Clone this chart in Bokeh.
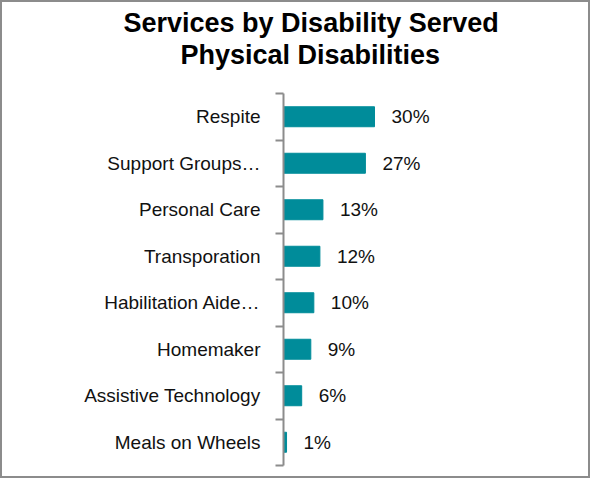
from bokeh.plotting import figure
from bokeh.models import Range1d, FixedTicker, Title, ColumnDataSource
from bokeh.core.properties import value
from bokeh.embed import file_html
from bokeh.resources import INLINE

# Data (top to bottom as in the chart)
categories = ["Respite", "Support Groups…", "Personal Care", "Transporation",
              "Habilitation Aide…", "Homemaker", "Assistive Technology", "Meals on Wheels"]
percent = [30, 27, 13, 12, 10, 9, 6, 1]
title_lines = ["Services by Disability Served", "Physical Disabilities"]

FONT = "Liberation Sans"
n = len(categories)
# bottom category at position 0.5, top at n-0.5
ypos = [n - 0.5 - i for i in range(n)]
labels = [f"{v}%" for v in percent]

W, H = 590, 478
ML, MR, MT, MB = 281, 10, 91, 15
frame_w = W - ML - MR
x_end = 30 * frame_w / 91.0

p = figure(width=W, height=H, output_backend="svg", toolbar_location=None,
           x_range=Range1d(0, x_end), y_range=Range1d(0, n),
           min_border_left=ML, min_border_right=MR, min_border_top=MT, min_border_bottom=MB,
           outline_line_color=None, background_fill_color="white", border_fill_color="white",
           styles={"border": "2px solid #8c8c8c"})

src = ColumnDataSource(dict(y=ypos, v=percent, lab=labels))
p.hbar(y="y", right="v", left=0, height=0.43, source=src,
       fill_color="#008C9A", line_color="#008C9A")
p.text(x="v", y="y", text="lab", source=src, x_offset=17, text_baseline="middle",
       text_align="left", text_font=value(FONT), text_font_size="19px", text_color="#111111")

p.xaxis.visible = False
p.xgrid.visible = False
p.ygrid.visible = False

ya = p.yaxis[0]
ya.ticker = FixedTicker(ticks=ypos, minor_ticks=list(range(n + 1)))
ya.major_label_overrides = {y: c for y, c in zip(ypos, categories)}
ya.major_tick_out = 0
ya.major_tick_in = 0
ya.minor_tick_out = 8
ya.minor_tick_in = 0
ya.axis_line_color = "#8c8c8c"
ya.axis_line_width = 2
ya.minor_tick_line_color = "#8c8c8c"
ya.minor_tick_line_width = 2
ya.major_label_standoff = 15
ya.major_label_text_font = FONT
ya.major_label_text_font_size = "19px"
ya.major_label_text_color = "#111111"

# spacer between the title and the plot frame
p.add_layout(Title(text=" ", standoff=0, text_font=FONT, text_font_size="20px"), "above")
# Title: two bold lines, centred over the chart box (added bottom line first)
for txt, off in zip(reversed(title_lines), [-103, -160]):
    p.add_layout(Title(text=txt, align="left", offset=off, standoff=0,
                       text_font=FONT, text_font_style="bold", text_font_size="27px",
                       text_color="#000000"), "above")

open("out.html", "w").write(file_html(p, INLINE))
